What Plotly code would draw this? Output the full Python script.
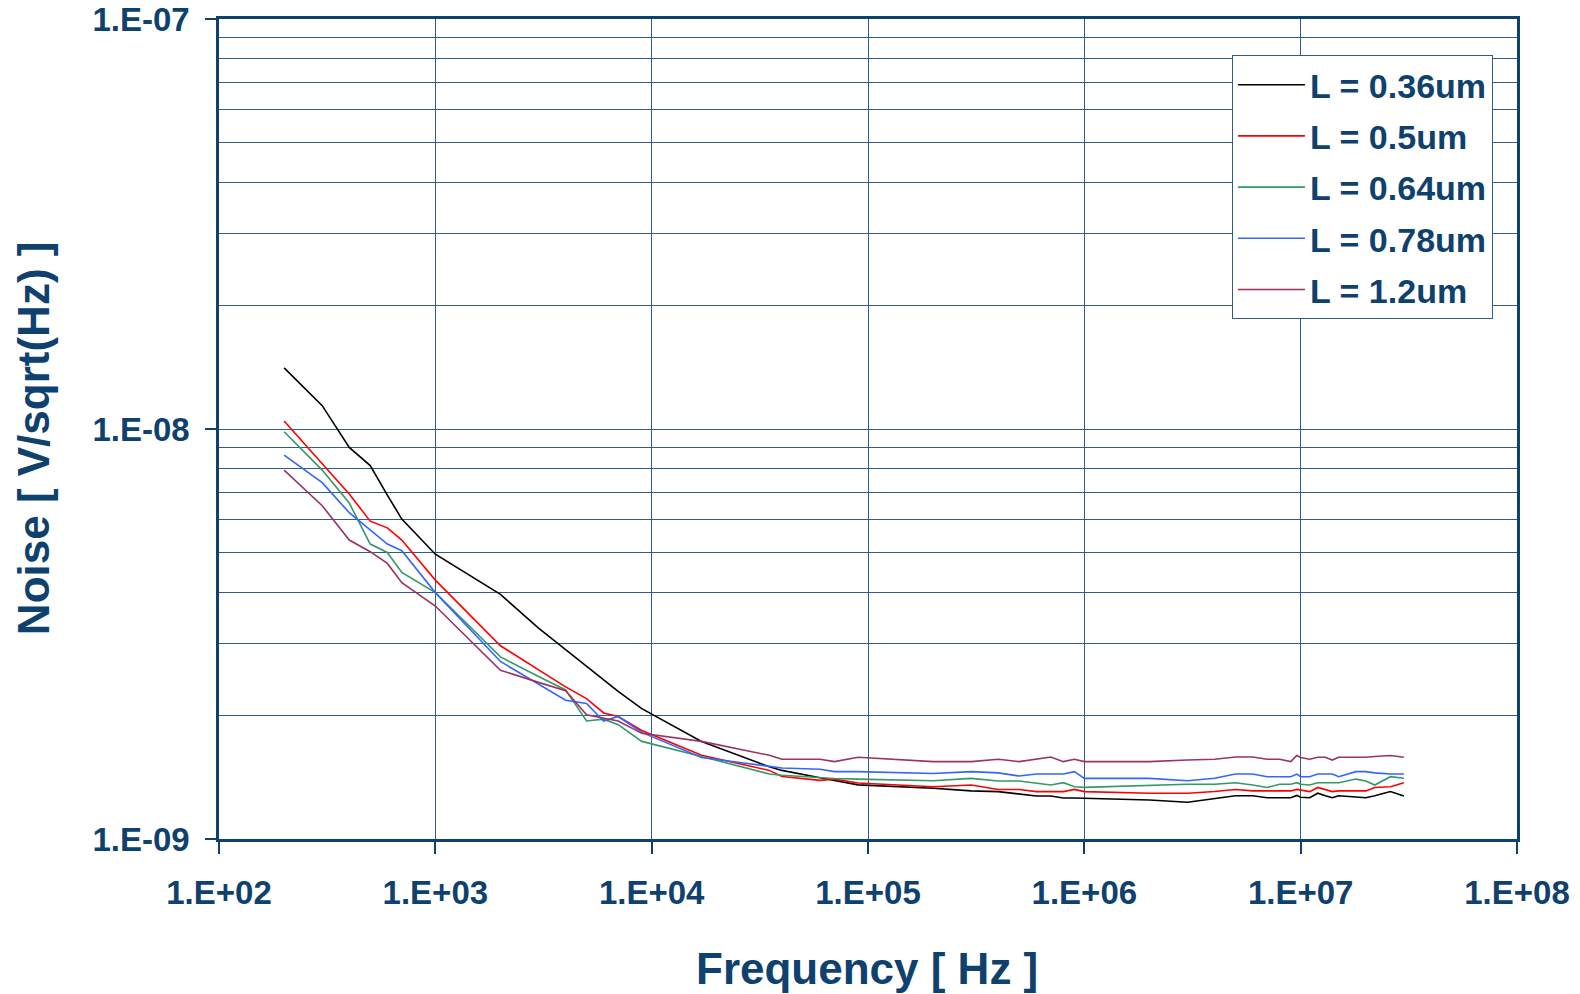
import plotly.graph_objects as go

# Frequency points [Hz]
freq_hz = [200, 300, 400, 500, 600, 700, 1000, 2000, 3000, 4000, 5000, 6000, 7000, 9000,
           17000, 35000, 40000, 60000, 70000, 90000,
           2e5, 3e5, 4e5, 5e5, 6e5, 7e5, 8e5, 9e5,
           1e6, 2e6, 3e6, 4e6, 5e6, 6e6, 7e6, 8e6, 9e6, 9.6e6,
           1e7, 1.1e7, 1.2e7, 1.3e7, 1.4e7, 1.5e7, 1.8e7, 2e7, 2.2e7, 2.6e7, 3e7]

# Noise values [nV/sqrt(Hz)]
noise_L036 = [14.1, 11.4, 9.02, 8.14, 6.90, 6.03, 4.95, 3.95, 3.27, 2.90, 2.64, 2.45, 2.29, 2.08,
              1.73, 1.50, 1.47, 1.41, 1.39, 1.355,
              1.33, 1.31, 1.305, 1.29, 1.273, 1.273, 1.259, 1.259,
              1.257, 1.245, 1.229, 1.257, 1.275, 1.275, 1.261, 1.261, 1.261, 1.277,
              1.264, 1.261, 1.293, 1.275, 1.261, 1.275, 1.265, 1.261, 1.275, 1.305, 1.273]
noise_L050 = [10.46, 8.21, 6.94, 5.96, 5.74, 5.36, 4.28, 2.96, 2.585, 2.35, 2.20, 2.03, 1.99, 1.84,
              1.60, 1.47, 1.42, 1.39, 1.40, 1.37,
              1.341, 1.354, 1.321, 1.321, 1.305, 1.305, 1.305, 1.321,
              1.305, 1.293, 1.293, 1.306, 1.321, 1.31, 1.31, 1.31, 1.31, 1.321,
              1.316, 1.305, 1.336, 1.32, 1.305, 1.31, 1.31, 1.31, 1.336, 1.341, 1.372]
noise_L064 = [9.85, 7.94, 6.6, 5.24, 5.00, 4.47, 3.99, 2.78, 2.49, 2.31, 1.94, 1.96, 1.90, 1.73,
              1.59, 1.44, 1.43, 1.41, 1.405, 1.40,
              1.387, 1.406, 1.385, 1.385, 1.369, 1.354, 1.372, 1.341,
              1.336, 1.354, 1.36, 1.36, 1.372, 1.354, 1.336, 1.36, 1.36, 1.372,
              1.36, 1.354, 1.372, 1.372, 1.372, 1.372, 1.40, 1.385, 1.354, 1.419, 1.406]
noise_L078 = [8.64, 7.40, 6.25, 5.67, 5.24, 5.05, 3.99, 2.71, 2.38, 2.18, 2.14, 1.94, 1.99, 1.82,
              1.58, 1.50, 1.49, 1.479, 1.46, 1.46,
              1.445, 1.46, 1.45, 1.424, 1.44, 1.44, 1.44, 1.46,
              1.406, 1.406, 1.387, 1.406, 1.44, 1.44, 1.419, 1.419, 1.419, 1.44,
              1.419, 1.419, 1.44, 1.44, 1.44, 1.419, 1.46, 1.46, 1.45, 1.44, 1.44]
noise_L120 = [7.94, 6.50, 5.36, 5.02, 4.70, 4.22, 3.70, 2.58, 2.41, 2.30, 2.01, 1.97, 1.94, 1.81,
              1.73, 1.60, 1.565, 1.565, 1.544, 1.583,
              1.544, 1.544, 1.565, 1.544, 1.565, 1.585, 1.544, 1.565,
              1.544, 1.544, 1.558, 1.565, 1.585, 1.585, 1.565, 1.565, 1.544, 1.598,
              1.58, 1.565, 1.583, 1.583, 1.558, 1.583, 1.583, 1.583, 1.59, 1.598, 1.583]

series_names = ["L = 0.36um", "L = 0.5um", "L = 0.64um", "L = 0.78um", "L = 1.2um"]
series_values = [noise_L036, noise_L050, noise_L064, noise_L078, noise_L120]
series_colors = ["#000000", "#ff0000", "#339966", "#3366ff", "#993366"]

x_tick_vals = [1e2, 1e3, 1e4, 1e5, 1e6, 1e7, 1e8]
x_tick_text = ["1.E+02", "1.E+03", "1.E+04", "1.E+05", "1.E+06", "1.E+07", "1.E+08"]
y_tick_vals = [1e-9, 1e-8, 1e-7]
y_tick_text = ["1.E-09", "1.E-08", "1.E-07"]
y_minor_vals = [k * 10.0 ** e for e in (-9, -8) for k in range(2, 10)]

NAVY = "#0f416f"
GRID = "#2f5d88"
FONT = "Liberation Sans"

fig = go.Figure()
for name, vals, color in zip(series_names, series_values, series_colors):
    fig.add_trace(go.Scatter(
        x=freq_hz, y=[v * 1e-9 for v in vals], mode="lines", name=name,
        legendgroup=name, line=dict(color=color, width=1.6)))

fig.update_layout(
    width=1580, height=994,
    margin=dict(l=219, r=63, t=19, b=155, autoexpand=False),
    paper_bgcolor="white", plot_bgcolor="white",
    font=dict(family=FONT, color=NAVY, size=33, weight="bold"),
    showlegend=True,
    legend=dict(
        x=0.7804, y=0.956, xanchor="left", yanchor="top",
        bgcolor="white", bordercolor=GRID, borderwidth=1,
        font=dict(family=FONT, color=NAVY, size=34, weight="bold"),
        tracegroupgap=4, itemwidth=67,
    ),
)

fig.update_xaxes(
    type="log", range=[2, 8],
    tickvals=x_tick_vals, ticktext=x_tick_text,
    ticks="outside", ticklen=12, tickwidth=1.5, tickcolor=NAVY,
    showline=True, linecolor=NAVY, linewidth=2.5, mirror=True,
    showgrid=True, gridcolor=GRID, gridwidth=1,
    zeroline=False, ticklabelstandoff=11,
    tickfont=dict(family=FONT, color=NAVY, size=33, weight="bold"),
)
fig.update_yaxes(
    type="log", range=[-9, -7],
    tickvals=y_tick_vals, ticktext=y_tick_text,
    ticks="outside", ticklen=11, tickwidth=2, tickcolor=NAVY,
    showline=True, linecolor=NAVY, linewidth=2.5, mirror=True,
    showgrid=True, gridcolor=GRID, gridwidth=1,
    minor=dict(tickvals=y_minor_vals, showgrid=True, gridcolor=GRID, gridwidth=1, ticks=""),
    zeroline=False, ticklabelstandoff=9,
    tickfont=dict(family=FONT, color=NAVY, size=33, weight="bold"),
)

fig.add_annotation(text="Frequency [ Hz ]", xref="paper", yref="paper",
                   x=0.499, y=-0.1585, xanchor="center", yanchor="middle",
                   showarrow=False, font=dict(family=FONT, color=NAVY, size=44, weight="bold"))
fig.add_annotation(text="Noise [ V/sqrt(Hz) ]", xref="paper", yref="paper",
                   x=-0.1432, y=0.489, xanchor="center", yanchor="middle", textangle=-90,
                   showarrow=False, font=dict(family=FONT, color=NAVY, size=44, weight="bold"))

fig.write_html("out.html")
